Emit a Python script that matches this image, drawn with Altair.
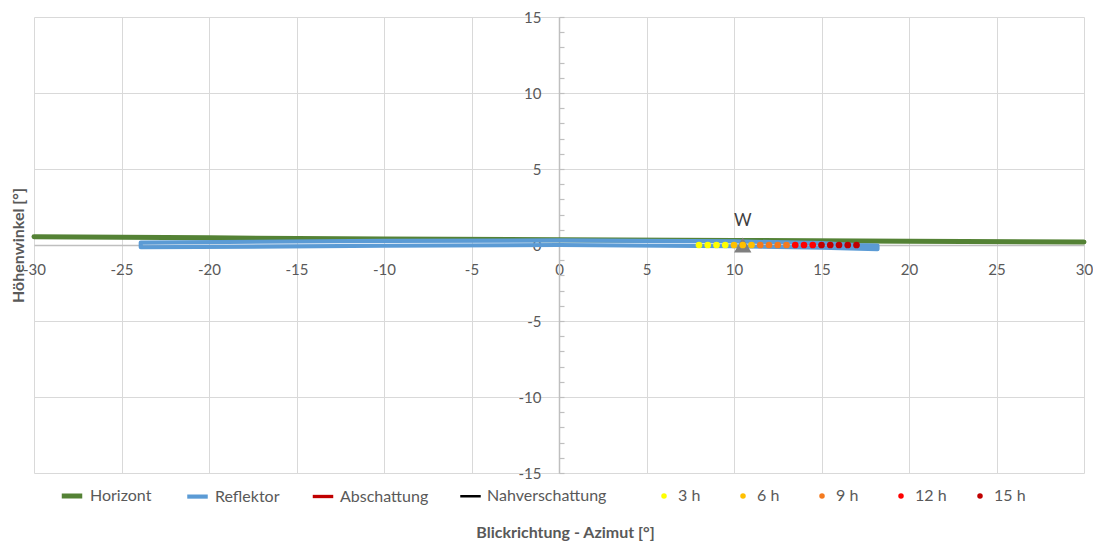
import altair as alt
import pandas as pd

# ---------------- data ----------------
horizon_az = [-30, -20, -10, 0, 10, 20, 30]
horizon_el = [0.55, 0.47, 0.40, 0.35, 0.30, 0.25, 0.20]

refl_az = [-23.9, -10, 0, 10, 15, 17, 18.2, 18.2, 15, 10, 0, -10, -23.9, -23.9]
refl_el = [0.16, 0.27, 0.30, 0.24, 0.12, 0.0, -0.04, -0.28, -0.18, -0.08, 0.0, -0.05, -0.15, 0.16]

sun_az = {
    "3 h": [8.0, 8.5, 9.0, 9.5],
    "6 h": [10.0, 10.5, 11.0],
    "9 h": [11.5, 12.0, 12.5, 13.0],
    "12 h": [13.5, 14.0, 14.5],
    "15 h": [15.0, 15.5, 16.0, 16.5, 17.0],
}
sun_el = 0.0

west_az = [10.5]
west_el = [0.0]
west_label = ["W"]
west_label_el = [1.6]

line_series = ["Horizont", "Reflektor", "Abschattung", "Nahverschattung"]
line_colors = ["#548235", "#5b9bd5", "#c00000", "#000000"]
line_widths = [5, 2.5, 2, 2]

hour_series = ["3 h", "6 h", "9 h", "12 h", "15 h"]
hour_colors = ["#ffff00", "#ffc000", "#f47a1f", "#ff0000", "#c00000"]

x_ticks = list(range(-30, 31, 5))
y_ticks = list(range(-15, 16, 5))
y_minor = list(range(-15, 16, 1))

# ---------------- tables ----------------
rows = []
for i, (a, e) in enumerate(zip(horizon_az, horizon_el)):
    rows.append({"az": a, "el": e, "serie": "Horizont", "i": i})
for i, (a, e) in enumerate(zip(refl_az, refl_el)):
    rows.append({"az": a, "el": e, "serie": "Reflektor", "i": i})
lines_df = pd.DataFrame(rows)

pts = []
for h in hour_series:
    for a in sun_az[h]:
        pts.append({"az": a, "el": sun_el, "stunde": h})
pts_df = pd.DataFrame(pts)

west_df = pd.DataFrame({"az": west_az, "el": west_el, "lab": west_label, "lab_el": west_label_el})

FONT = "Lato"
GRAY = "#595959"
W, H = 1050, 456

xs = alt.Scale(domain=[-30, 30], nice=False, zero=False)
ys = alt.Scale(domain=[-15, 15], nice=False, zero=False)

lines = alt.Chart(lines_df).mark_line(strokeJoin="round", strokeCap="round").encode(
    x=alt.X("az:Q", scale=xs, axis=alt.Axis(
        values=x_ticks, orient="bottom", offset=-H / 2, ticks=False, labelPadding=17,
        labelExpr="'' + datum.value",
        labelFlush=False, labelFont=FONT, labelFontSize=15, labelColor=GRAY,
        domainColor="#bfbfbf", domainWidth=1.5, gridColor="#d9d9d9", gridWidth=1,
        title="Blickrichtung - Azimut [°]", titleFont=FONT, titleFontSize=16,
        titleFontWeight="bold", titleColor=GRAY, titleY=287, titleBaseline="middle",
        titleX=W / 2 + 6)),
    y=alt.Y("el:Q", scale=ys, axis=alt.Axis(
        values=y_ticks, orient="left", offset=-W / 2, ticks=False, labelPadding=18,
        labelExpr="'' + datum.value",
        labelFont=FONT, labelFontSize=15, labelColor=GRAY,
        domainColor="#bfbfbf", domainWidth=1.5, gridColor="#d9d9d9", gridWidth=1,
        title="Höhenwinkel [°]", titleFont=FONT, titleFontSize=16,
        titleFontWeight="bold", titleColor=GRAY, titleX=-(W / 2 + 16),
        titleBaseline="middle")),
    color=alt.Color("serie:N", scale=alt.Scale(domain=line_series, range=line_colors),
                    legend=alt.Legend(title=None, orient="none", direction="horizontal",
                                      legendX=25, legendY=466, symbolType="stroke",
                                      symbolSize=420, symbolStrokeWidth=2.5,
                                      labelFont=FONT, labelFontSize=16, labelColor=GRAY,
                                      labelOffset=5, columnPadding=26, padding=0)),
    strokeWidth=alt.StrokeWidth("serie:N", scale=alt.Scale(domain=line_series, range=line_widths),
                                legend=None),
    detail="serie:N",
    order="i:Q",
)

west_tri = alt.Chart(west_df).mark_point(shape="triangle-up", filled=True, color="#7f7f7f",
                                         size=300, opacity=1).encode(
    x=alt.X("az:Q", scale=xs, axis=None),
    y=alt.Y("el:Q", scale=ys, axis=alt.Axis(
        orient="right", offset=-W / 2, values=y_minor, labels=False, domain=False,
        grid=False, ticks=True, tickSize=5, tickColor="#bfbfbf", tickWidth=1.2, title=None)),
)

points = alt.Chart(pts_df).mark_circle(size=45, opacity=1).encode(
    x=alt.X("az:Q", scale=xs, axis=None),
    y=alt.Y("el:Q", scale=ys, axis=None),
    color=alt.Color("stunde:N", scale=alt.Scale(domain=hour_series, range=hour_colors),
                    legend=alt.Legend(title=None, orient="none", direction="horizontal",
                                      legendX=622, legendY=471, columns=5, gridAlign="all",
                                      symbolSize=30, labelFont=FONT, labelFontSize=16,
                                      labelColor=GRAY, labelOffset=6, columnPadding=25,
                                      padding=0)),
)

west_txt = alt.Chart(west_df).mark_text(font=FONT, fontSize=17, color="#404040").encode(
    x=alt.X("az:Q", scale=xs, axis=None),
    y=alt.Y("lab_el:Q", scale=ys, axis=None),
    text="lab:N",
)

chart = alt.layer(lines, west_tri, points, west_txt).resolve_scale(
    color="independent", strokeWidth="independent"
).resolve_axis(y="independent", x="independent").properties(
    width=W, height=H,
    autosize=alt.AutoSizeParams(type="none"),
    padding={"left": 26, "top": 9, "right": 9, "bottom": 70},
    background="white",
).configure_view(stroke=None)

chart.save("out.html", embed_options={"renderer": "svg", "actions": False})
